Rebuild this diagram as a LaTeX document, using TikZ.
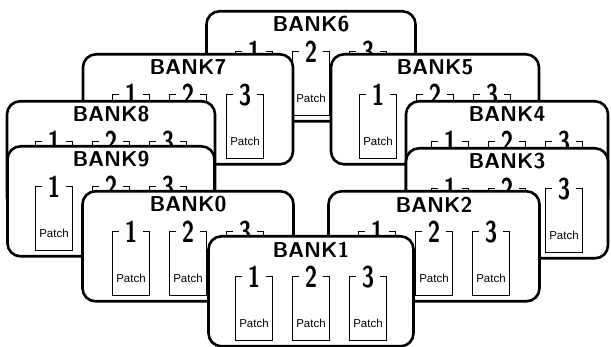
\documentclass[tikz,border=0pt]{standalone}
\usepackage{fontspec}
\usepackage{graphicx}
\newfontfamily\patchfont{Liberation Sans}
\newcommand\bankunit[4]{% #1 index, #2 centre x, #3 top, #4 width
  \node[bankbox, minimum width=#4pt, anchor=north] (bank#1) at (#2,#3) {};
  \node[banktitle] (bank#1-title) at ([yshift=-14.5pt]bank#1.north) {BANK#1};
  \foreach \k/\dx in {1/-57,2/0,3/57}{
    \node[patchslot, anchor=north] (bank#1-p\k) at ([xshift=\dx pt, yshift=-42pt]bank#1.north) {};
    \draw[patchline] ([xshift=6pt]bank#1-p\k.north west) -- (bank#1-p\k.north west)
      -- (bank#1-p\k.south west) -- (bank#1-p\k.south east) -- (bank#1-p\k.north east)
      -- ([xshift=-6pt]bank#1-p\k.north east);
    \node[patchnum] (bank#1-n\k) at (bank#1-p\k.north) {\scalebox{0.75}[1]{\k}};
    \node[patchlabel] (bank#1-l\k) at ([yshift=17pt]bank#1-p\k.south) {Patch};
  }
}
\begin{document}
\begin{tikzpicture}[x=1pt,y=-1pt,
  bankbox/.style={draw, line width=2.6pt, rounded corners=13pt, fill=white, inner sep=0pt, minimum height=110pt},
  banktitle/.style={font=\sffamily\bfseries\fontsize{21.5}{21.5}\selectfont, inner sep=0pt},
  patchslot/.style={inner sep=0pt, minimum width=36pt, minimum height=63pt},
  patchline/.style={line width=1pt},
  patchnum/.style={font=\sffamily\bfseries\fontsize{30}{30}\selectfont, inner sep=0pt},
  patchlabel/.style={font=\patchfont\fontsize{11.5}{11.5}\selectfont, inner sep=0pt}
]
\useasboundingbox (0,0) rectangle (611,347);
\bankunit{6}{311}{10}{209}
\bankunit{7}{188}{53}{210}
\bankunit{5}{435}{53}{208}
\bankunit{8}{111}{100}{208}
\bankunit{4}{507}{100}{202}
\bankunit{9}{111}{145}{207}
\bankunit{3}{507}{147}{202}
\bankunit{0}{188}{190}{211}
\bankunit{2}{434}{190}{211}
\bankunit{1}{311}{235}{205}
\end{tikzpicture}
\end{document}
